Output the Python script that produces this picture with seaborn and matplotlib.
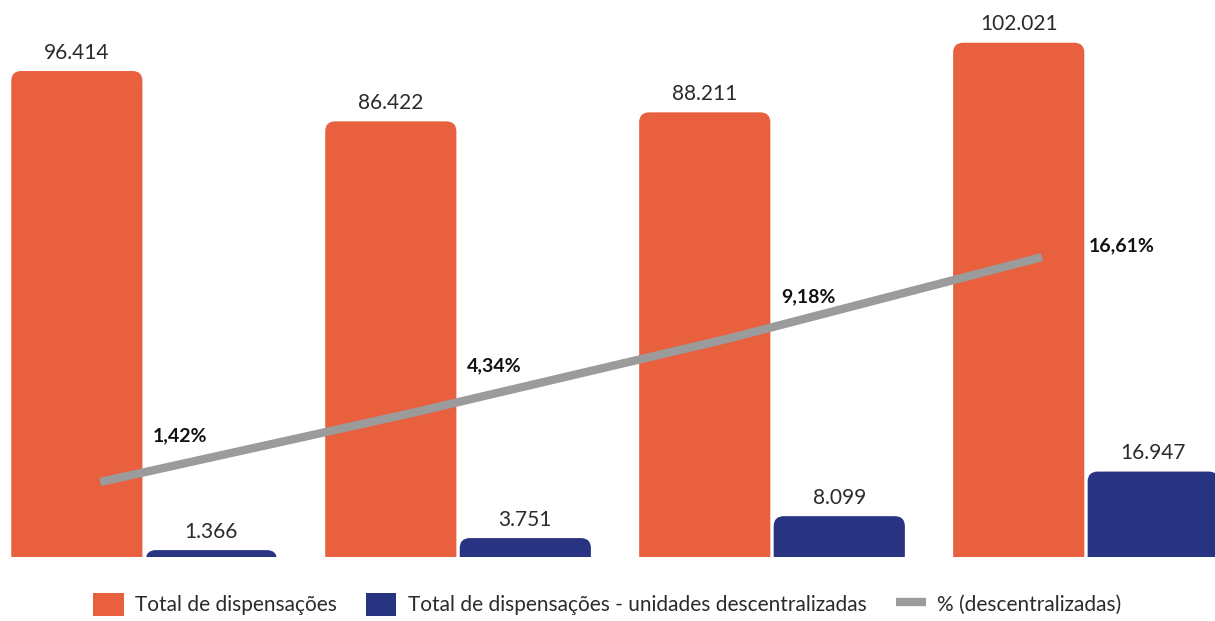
import numpy as np
import pandas as pd
import matplotlib
matplotlib.use("Agg")
import matplotlib.pyplot as plt
from matplotlib.patches import FancyBboxPatch, Patch
from matplotlib.lines import Line2D
import seaborn as sns

# --- data ---------------------------------------------------------------
periodos = ["1", "2", "3", "4"]
total_dispensacoes = [96414, 86422, 88211, 102021]
total_descentralizadas = [1366, 3751, 8099, 16947]
pct_descentralizadas = [1.42, 4.34, 9.18, 16.61]
serie_nomes = ["Total de dispensações",
               "Total de dispensações - unidades descentralizadas"]
linha_nome = "% (descentralizadas)"

# --- style --------------------------------------------------------------
LARANJA = "#E8603E"
AZUL = "#283482"
CINZA = "#9B9B9B"
TEXTO = "#2B2B2B"

sns.set_theme(style="white")
plt.rcParams["font.family"] = ["Lato", "DejaVu Sans"]

W, H, DPI = 1215, 621, 100
fig = plt.figure(figsize=(W / DPI, H / DPI), dpi=DPI)
ax = fig.add_axes([0.0, 64 / H, 1.0, 557 / H])

df = pd.DataFrame({
    "periodo": periodos * 2,
    "valor": total_dispensacoes + total_descentralizadas,
    "serie": [serie_nomes[0]] * 4 + [serie_nomes[1]] * 4,
})

sns.barplot(data=df, x="periodo", y="valor", hue="serie",
            palette=[LARANJA, AZUL], width=0.857, gap=0.025,
            legend=False, ax=ax, saturation=1)

XMIN, XMAX = -0.459, 3.411
YMAX = 110500
ax.set_xlim(XMIN, XMAX)
ax.set_ylim(0, YMAX)

# rounded top corners: swap each bar rectangle for a rounded box
xpp = (XMAX - XMIN) / W          # x data units per pixel
ypp = YMAX / 557                 # y data units per pixel
raio_px = 10
for cont in ax.containers:
    for rect in cont:
        x, y = rect.get_x(), rect.get_y()
        w, h = rect.get_width(), rect.get_height()
        rect.set_visible(False)
        ext = 2.5 * raio_px * ypp
        box = FancyBboxPatch((x, y - ext), w, h + ext,
                             boxstyle=f"round,pad=0,rounding_size={raio_px * xpp}",
                             mutation_aspect=ypp / xpp,
                             fc=rect.get_facecolor(), ec="none", zorder=2)
        ax.add_patch(box)

def fmt(v):
    return f"{v:,}".replace(",", ".")

for cont in ax.containers:
    vals = [r.get_height() for r in cont]
    ax.bar_label(cont, labels=[fmt(int(round(v))) for v in vals],
                 padding=6, fontsize=15, color=TEXTO)

# percentage line on a secondary square-root scale
ax2 = ax.twinx()
ax2.set_yscale("function", functions=(np.sqrt, np.square))
xs = np.arange(len(periodos)) - 0.14
sns.lineplot(x=xs, y=pct_descentralizadas, ax=ax2, color=CINZA,
             linewidth=6, solid_capstyle="butt", zorder=3)
ax2.set_ylim(0.053, 54.35)
ax2.set_xlim(XMIN, XMAX)

label_dy = [46, 47, 42, 11]   # pixels above each point
for i, (p, dy) in enumerate(zip(pct_descentralizadas, label_dy)):
    ax2.annotate(f"{p:.2f}%".replace(".", ","),
                 xy=(i + 0.115, p), xytext=(0, dy * 72 / DPI),
                 textcoords="offset points", ha="center", va="center",
                 fontsize=14, fontweight="bold", color="#111111")

for a in (ax, ax2):
    a.axis("off")

handles = [Patch(fc=LARANJA, ec="none"), Patch(fc=AZUL, ec="none"),
           Line2D([], [], color=CINZA, lw=6, solid_capstyle="butt")]
fig.legend(handles, serie_nomes + [linha_nome], loc="lower center",
           bbox_to_anchor=(0.5, -0.022), ncol=3, frameon=False,
           handlelength=1.45, handleheight=1.35,
           handletextpad=0.55, columnspacing=1.4, labelcolor=TEXTO,
           prop={"size": 15})

fig.savefig("out.png", dpi=DPI)
